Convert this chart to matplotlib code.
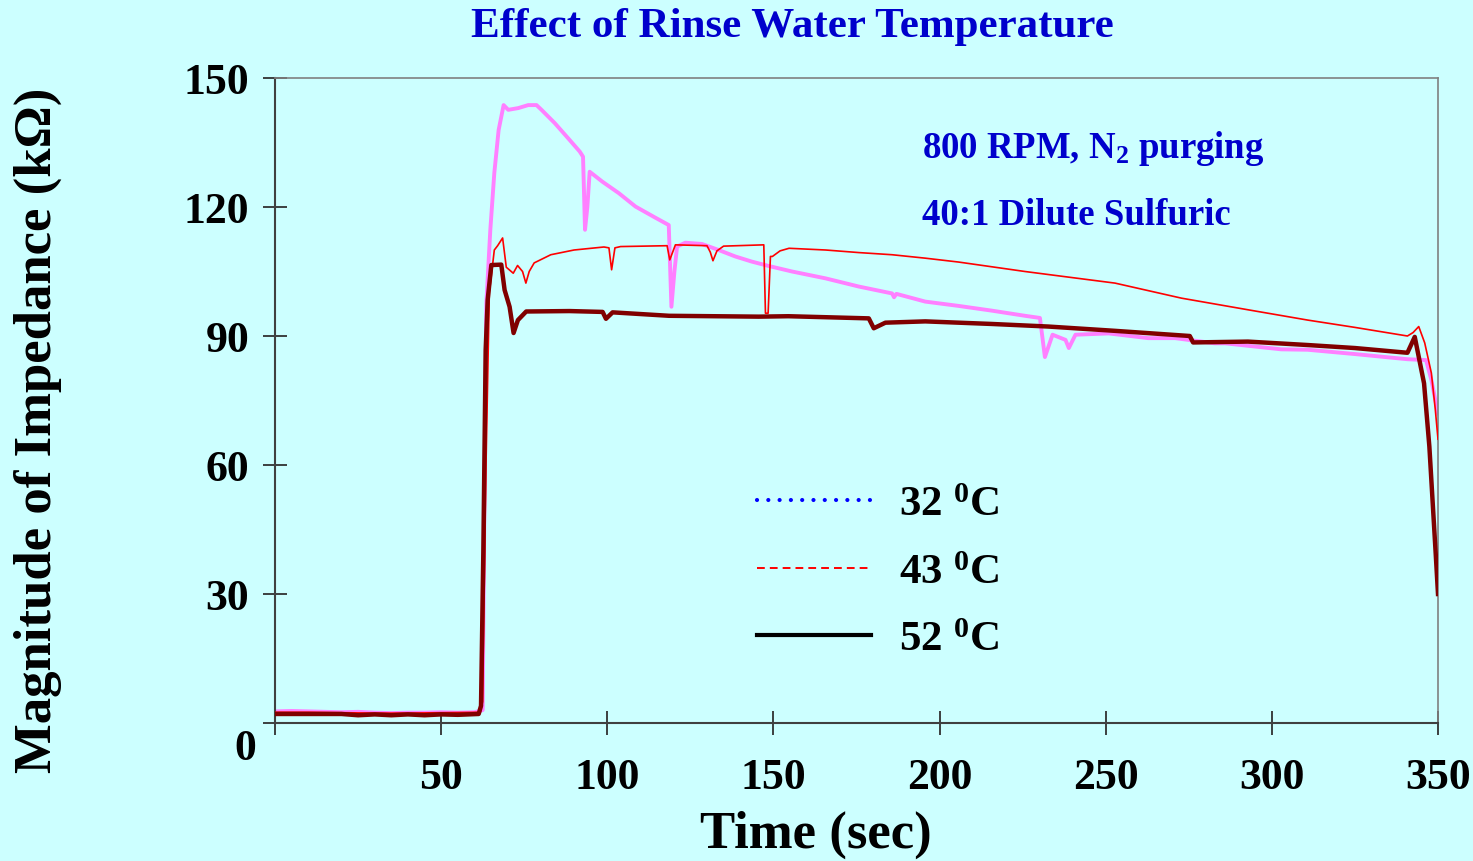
import matplotlib
matplotlib.use("Agg")
import matplotlib.pyplot as plt
from matplotlib.lines import Line2D

plt.rcParams['font.family'] = ['Liberation Serif', 'DejaVu Serif']
plt.rcParams['font.weight'] = 'bold'
plt.rcParams['mathtext.fontset'] = 'custom'
plt.rcParams['mathtext.rm'] = 'Liberation Serif:bold'
plt.rcParams['mathtext.bf'] = 'Liberation Serif:bold'
plt.rcParams['mathtext.it'] = 'Liberation Serif:bold:italic'
plt.rcParams['mathtext.default'] = 'bf'

# ---- measured impedance traces (time in s, |Z| in kOhm) ----
t_32 = [0, 5, 10, 15, 20, 25, 30, 35, 40, 45, 50, 55, 60, 62.5, 63.0, 63.6,
        64.8, 66.0, 67.3, 68.8, 70.2, 73.2, 76.2, 78.7, 80.2, 84.2, 88.2, 91.7,
        92.7, 93.3, 94.0, 94.7, 98.5, 103.5, 108.5, 114.5, 118.5, 119.3, 120.2,
        121.0, 123.5, 128.5, 133.5, 138.5, 143.5, 148.5, 155.6, 165.7, 175.7,
        185.7, 186.3, 187.0, 195.7, 205.7, 215.7, 225.7, 230.2, 231.7, 234.0,
        237.9, 238.9, 240.9, 250.9, 262.8, 270.9, 282.8, 285.9, 302.8, 310.8,
        325.0, 340.8, 346.4, 348.0, 349.2, 350.0]
z_32 = [2.7, 2.8, 2.7, 2.6, 2.5, 2.6, 2.4, 2.3, 2.4, 2.4, 2.5, 2.4, 2.5, 3.0, 50.0, 97.6,
        114.7, 127.9, 137.9, 143.7, 142.6, 143.0, 143.7, 143.7, 142.6, 139.5, 136.0, 132.9,
        131.7, 114.7, 120.0, 128.2, 125.9, 123.2, 120.1, 117.5, 115.8, 96.8, 105.0,
        110.8, 111.7, 111.4, 110.0, 108.5, 107.3, 106.3, 105.0, 103.4, 101.5,
        99.9, 99.0, 99.8, 98.0, 97.0, 95.9, 94.7, 94.2, 85.1, 90.3,
        89.1, 87.2, 90.3, 90.6, 89.5, 89.5, 88.3, 88.3, 86.9, 86.8,
        85.8, 84.6, 84.4, 79.8, 75.1, 72.0]

t_43 = [0, 10, 20, 30, 40, 50, 61.8, 62.5, 63.5, 64.5, 66.0, 67.0, 68.5, 69.6,
        71.7, 73.0, 74.5, 75.5, 76.5, 78.0, 83.0, 90.0, 99.0, 100.5, 101.3, 102.3,
        104.0, 118.0, 118.8, 120.5, 130.0, 131.0, 131.8, 133.0, 135.0, 147.1,
        147.6, 148.4, 149.1, 149.7, 152.0, 154.7, 165.7, 175.7, 185.7, 195.7,
        205.7, 215.7, 225.7, 235.7, 252.8, 272.8, 292.8, 310.8, 325.0, 340.8,
        342.5, 344.2, 346.0, 348.0, 349.2, 350.0]
z_43 = [2.5, 2.5, 2.4, 2.3, 2.3, 2.4, 2.5, 5.0, 60.0, 100.0, 110.0, 111.0, 112.8, 106.0,
        104.6, 106.4, 105.0, 102.3, 105.0, 107.0, 108.9, 110.0, 110.7, 110.5, 105.4, 110.5,
        110.8, 111.0, 107.7, 111.2, 111.0, 109.5, 107.5, 109.8, 110.9, 111.2,
        95.3, 95.3, 108.5, 108.5, 109.8, 110.4, 110.0, 109.4, 108.9, 108.1,
        107.2, 106.1, 105.0, 104.0, 102.3, 98.8, 96.1, 93.7, 92.0, 90.0,
        90.8, 92.2, 88.4, 81.4, 72.8, 66.0]

t_52 = [0, 10, 20, 25, 30, 35, 40, 45, 50, 55, 61.3, 62.0, 62.7, 63.4, 64.0,
        65.1, 68.1, 69.1, 70.6, 71.8, 73.1, 75.6, 88.6, 98.6, 99.6, 101.6,
        118.6, 145.6, 154.5, 178.7, 180.2, 183.7, 195.7, 215.7, 232.7, 252.8,
        275.3, 276.3, 292.8, 310.8, 325.0, 340.8, 343.0, 345.8, 347.4, 349.3,
        350.0]
z_52 = [2.1, 2.1, 2.1, 1.8, 2.0, 1.8, 2.0, 1.8, 2.0, 1.9, 2.1, 4.0, 40.0, 86.8, 98.4,
        106.5, 106.6, 100.7, 96.8, 90.7, 93.7, 95.7, 95.8, 95.6, 94.0, 95.5,
        94.7, 94.5, 94.6, 94.1, 91.8, 93.1, 93.4, 92.8, 92.2, 91.2,
        90.0, 88.5, 88.7, 87.9, 87.2, 86.1, 89.8, 79.0, 64.3, 39.5,
        30.0]

series_labels = ['32 $^0$C', '43 $^0$C', '52 $^0$C']
x_ticks = [0, 50, 100, 150, 200, 250, 300, 350]
x_tick_labels = ['', '50', '100', '150', '200', '250', '300', '350']
y_ticks = [0, 30, 60, 90, 120, 150]
y_tick_labels = ['', '30', '60', '90', '120', '150']

BG = '#CCFFFF'
BLUE_TXT = '#0000CC'

fig = plt.figure(figsize=(14.73, 8.62), dpi=100, facecolor=BG)
ax = fig.add_axes([275 / 1473, 1 - 724 / 862, (1438 - 275) / 1473, (724 - 79) / 862])
ax.set_facecolor(BG)

ax.plot(t_32, z_32, color='#FF80FF', lw=2.8, solid_joinstyle='round', zorder=2)
ax.plot(t_43, z_43, color='#FF0000', lw=1.2, zorder=3)
ax.plot(t_52, z_52, color='#800000', lw=3.2, solid_joinstyle='round', zorder=4)

ax.set_xlim(0, 350)
ax.set_ylim(0, 150)
ax.set_xticks(x_ticks)
ax.set_xticklabels(x_tick_labels)
ax.set_yticks(y_ticks)
ax.set_yticklabels(y_tick_labels)
ax.tick_params(axis='both', direction='inout', length=17, width=1.3, color='#303030',
               labelsize=31.5)
ax.tick_params(axis='x', pad=16)
ax.tick_params(axis='y', pad=10)
for lab in ax.get_xticklabels() + ax.get_yticklabels():
    lab.set_fontweight('bold')

for side in ('left', 'bottom'):
    ax.spines[side].set_color('#404040')
    ax.spines[side].set_linewidth(1.5)
for side in ('top', 'right'):
    ax.spines[side].set_color('#808080')
    ax.spines[side].set_linewidth(1.2)

# shared origin label
ax.text(-9, -5.8, '0', ha='center', va='center', fontsize=31.5, fontweight='bold',
        clip_on=False)

# titles and axis labels
fig.text(792 / 1473, 1 - 27 / 862, 'Effect of Rinse Water Temperature', color=BLUE_TXT,
         fontsize=31, fontweight='bold', ha='center', va='center')
fig.text(816 / 1473, 1 - 835 / 862, 'Time (sec)', fontsize=38, fontweight='bold',
         ha='center', va='center')
fig.text(38 / 1473, 1 - 430 / 862, 'Magnitude of Impedance (k\u03a9)', fontsize=38,
         fontweight='bold', rotation=90, ha='center', va='center')

# run conditions
fig.text(922 / 1473, 1 - 149 / 862, '800 RPM, N$_2$ purging', color=BLUE_TXT,
         fontsize=26.5, fontweight='bold', ha='left', va='center')
fig.text(922 / 1473, 1 - 216 / 862, '40:1 Dilute Sulfuric', color=BLUE_TXT,
         fontsize=26.5, fontweight='bold', ha='left', va='center')

handles = [
    Line2D([], [], color='#0000FF', lw=3.0, linestyle=(0, (0.01, 2.7)), dash_capstyle='round'),
    Line2D([], [], color='#FF0000', lw=1.4, linestyle=(0, (4, 2.6))),
    Line2D([], [], color='black', lw=3.0),
]
leg = fig.legend(handles, series_labels, loc='upper left',
                 bbox_to_anchor=(757 / 1473, 1 - 486 / 862), frameon=False,
                 fontsize=31, handlelength=2.65, handletextpad=0.65, labelspacing=0.66,
                 borderpad=0, borderaxespad=0)
for txt in leg.get_texts():
    txt.set_fontweight('bold')

fig.savefig('out.png', dpi=100, facecolor=BG)
